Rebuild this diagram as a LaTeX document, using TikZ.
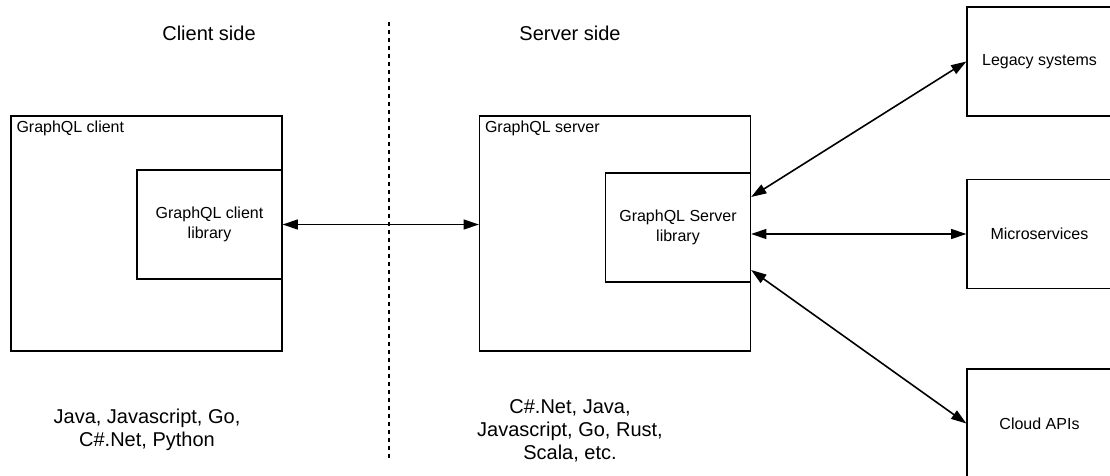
\documentclass[tikz,border=0pt]{standalone}
\usepackage{fontspec}
\setmainfont{Liberation Sans}
\usetikzlibrary{positioning}
\usetikzlibrary{calc}
\usetikzlibrary{arrows.meta}

\begin{document}
\begin{tikzpicture}[
	x=0.75pt, y=-0.75pt,
	line width=1.2pt,
	arrow/.style={{Triangle[length=11.5pt,width=7.5pt]}-{Triangle[length=11.5pt,width=7.5pt]}},
	divider/.style={dash pattern=on 3pt off 3pt, line width=1pt},
	box/.style={draw, rectangle, inner sep=0pt, font=\fontsize{12}{14.5}\selectfont, align=center},
	outerbox/.style={box, minimum width=203pt, minimum height=176.25pt},
	libbox/.style={box, minimum width=108.5pt, minimum height=81.75pt},
	title/.style={anchor=north west, inner sep=4pt, font=\fontsize{12}{14.5}\selectfont},
	caption/.style={align=center, font=\fontsize{15}{17.25}\selectfont},
]

\useasboundingbox (0,0) rectangle (1110,475);

% Sides
\node[caption](clientside) at (209,33) {Client side};
\node[caption](serverside) at (570,33) {Server side};
\coordinate (dtop) at (389,22);
\coordinate (dbot) at (389,460);
\draw[divider] (dtop) -- (dbot);

% Client
\node[outerbox](cbox) at (146.5,233.5) {};
\node[title] at (cbox.north west) {GraphQL client};
\node[libbox](clib) at (209.5,224.5) {GraphQL client\\library};

% Server
\node[outerbox](sbox) at (615,233.5) {};
\node[title] at (sbox.north west) {GraphQL server};
\node[libbox](slib) at (678,227.5) {GraphQL Server\\library};

% Backends
\node[libbox](legacy) at (1039.5,61.5) {Legacy systems};
\node[libbox](micro) at (1039.5,234) {Microservices};
\node[libbox](cloud) at (1039.5,423.5) {Cloud APIs};

% Languages
\node[caption](clang) at (147,430) {Java, Javascript, Go,\\C\#.Net, Python};
\node[caption](slang) at (570,431) {C\#.Net, Java,\\Javascript, Go, Rust,\\Scala, etc.};

% Arrows
\draw[arrow] (clib.east) -- (clib.east -| sbox.west);
\draw[arrow] ($(slib.east)+(0,-30.5)$) -- (legacy.west);
\draw[arrow] (slib.east |- micro.west) -- (micro.west);
\draw[arrow] ($(slib.east)+(0,42.5)$) -- (cloud.west);
\end{tikzpicture}
\end{document}
